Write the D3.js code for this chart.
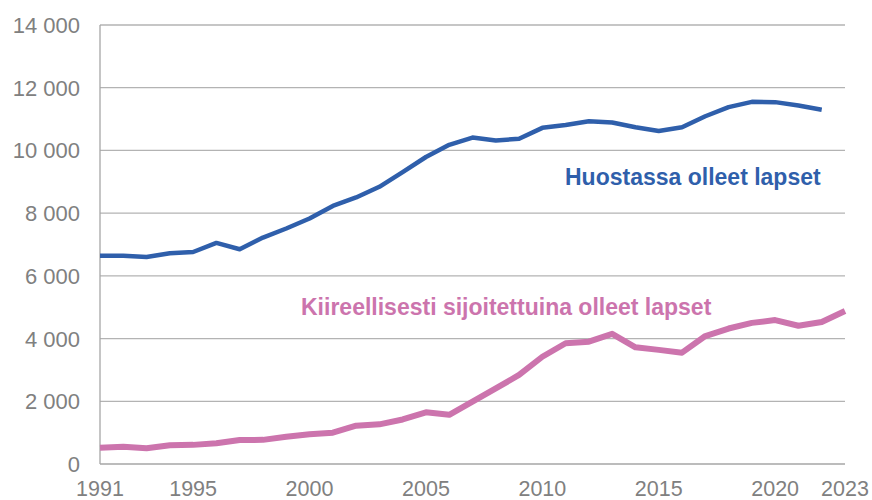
<!DOCTYPE html>
<html>
<head>
<meta charset="utf-8">
<script src="https://cdn.jsdelivr.net/npm/d3@7"></script>
<style>
  html, body { margin: 0; padding: 0; background: #fff; }
  svg { display: block; font-family: "Liberation Sans", Arial, sans-serif; }
</style>
</head>
<body>
<div id="chart"></div>
<script>
// Vuodet ja sarjat
const years = d3.range(1991, 2024);
const huostassa = [6640, 6640, 6600, 6720, 6760, 7050, 6850, 7220, 7510, 7830,
  8230, 8500, 8840, 9310, 9790, 10180, 10410, 10320, 10370, 10720,
  10810, 10930, 10890, 10740, 10620, 10740, 11090, 11380, 11550, 11540,
  11430, 11300];
const kiireelliset = [520, 550, 500, 600, 610, 660, 765, 770, 870, 950,
  1000, 1220, 1265, 1420, 1650, 1570, 1990, 2410, 2840, 3420,
  3850, 3900, 4150, 3720, 3640, 3550, 4080, 4320, 4500, 4590,
  4410, 4530, 4880];
const xTicks = [1991, 1995, 2000, 2005, 2010, 2015, 2020, 2023];
const yTicks = [0, 2000, 4000, 6000, 8000, 10000, 12000, 14000];

const width = 872, height = 500;
const margin = { left: 100, right: 27, top: 25, bottom: 36 };

const svg = d3.select('#chart').append('svg')
  .attr('width', width)
  .attr('height', height);

const x = d3.scaleLinear().domain([1991, 2023]).range([margin.left, width - margin.right]);
const y = d3.scaleLinear().domain([0, 14000]).range([height - margin.bottom, margin.top]);

const fmt = v => d3.format(',')(v).replace(/,/g, ' ');

// Ruudukko
svg.append('g')
  .selectAll('line')
  .data(yTicks.slice(1))
  .enter().append('line')
  .attr('x1', margin.left).attr('x2', width - margin.right)
  .attr('y1', d => y(d)).attr('y2', d => y(d))
  .attr('stroke', '#b3b3b3').attr('stroke-width', 1.3);

// Akselit
svg.append('line')
  .attr('x1', margin.left).attr('x2', margin.left)
  .attr('y1', y(14000)).attr('y2', y(0))
  .attr('stroke', '#a6a6a6').attr('stroke-width', 1.3);
svg.append('line')
  .attr('x1', margin.left).attr('x2', width - margin.right)
  .attr('y1', y(0)).attr('y2', y(0))
  .attr('stroke', '#a6a6a6').attr('stroke-width', 1.3);

// Y-akselin tekstit
svg.append('g')
  .selectAll('text')
  .data(yTicks)
  .enter().append('text')
  .attr('x', 80)
  .attr('y', d => y(d) + 8)
  .attr('text-anchor', 'end')
  .attr('font-size', '22px')
  .attr('fill', '#808080')
  .text(d => fmt(d));

// X-akselin tekstit
svg.append('g')
  .selectAll('text')
  .data(xTicks)
  .enter().append('text')
  .attr('x', d => x(d))
  .attr('y', 496)
  .attr('text-anchor', 'middle')
  .attr('font-size', '21.5px')
  .attr('fill', '#808080')
  .text(d => d);

// Viivat
const line = d3.line()
  .x((d, i) => x(years[i]))
  .y(d => y(d));

svg.append('path')
  .datum(kiireelliset)
  .attr('d', line)
  .attr('fill', 'none')
  .attr('stroke', '#cc74ad')
  .attr('stroke-width', 6)
  .attr('stroke-linejoin', 'round');

svg.append('path')
  .datum(huostassa)
  .attr('d', line)
  .attr('fill', 'none')
  .attr('stroke', '#2f5fab')
  .attr('stroke-width', 4.5)
  .attr('stroke-linejoin', 'round');

// Sarjojen nimet
svg.append('text')
  .attr('x', 565).attr('y', 185)
  .attr('font-size', '23px')
  .attr('font-weight', 'bold')
  .attr('fill', '#2f5fab')
  .text('Huostassa olleet lapset');

svg.append('text')
  .attr('x', 301).attr('y', 315)
  .attr('font-size', '23px')
  .attr('font-weight', 'bold')
  .attr('fill', '#cc74ad')
  .text('Kiireellisesti sijoitettuina olleet lapset');
</script>
</body>
</html>
